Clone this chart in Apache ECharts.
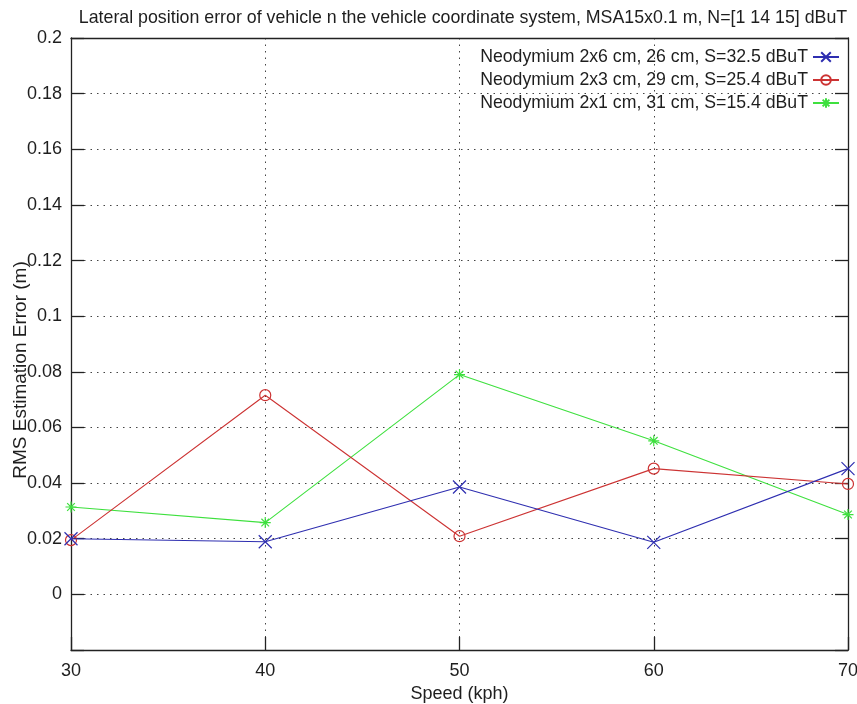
<!DOCTYPE html>
<html>
<head>
<meta charset="utf-8">
<script src="https://cdn.jsdelivr.net/npm/echarts@6/dist/echarts.min.js"></script>
<style>
html,body{margin:0;padding:0;background:#fff;}
#chart{width:857px;height:704px;}
</style>
</head>
<body>
<div id="chart"></div>
<script>
const speeds = [30, 40, 50, 60, 70];
const seriesNames = [
  'Neodymium 2x6 cm, 26 cm, S=32.5 dBuT',
  'Neodymium 2x3 cm, 29 cm, S=25.4 dBuT',
  'Neodymium 2x1 cm, 31 cm, S=15.4 dBuT'
];
const blueValues  = [0.0200, 0.0189, 0.0386, 0.0187, 0.0452];
const redValues   = [0.0195, 0.0716, 0.0209, 0.0452, 0.0397];
const greenValues = [0.0314, 0.0258, 0.0790, 0.0552, 0.0287];
const xTicks = [30, 40, 50, 60, 70];
const yTicks = [-0.02, 0, 0.02, 0.04, 0.06, 0.08, 0.1, 0.12, 0.14, 0.16, 0.18, 0.2];
const titleText = 'Lateral position error of vehicle n the vehicle coordinate system, MSA15x0.1 m, N=[1 14 15] dBuT';
const xName = 'Speed (kph)';
const yName = 'RMS Estimation Error (m)';

const FONT = '"Liberation Sans", Arial, sans-serif';
const TXT = '#1e1e1e';
const colors = ['#2e2eb0', '#cc3333', '#3ee03e'];
const symbols = [
  'path://M0,0L10,10M10,0L0,10',
  'circle',
  'path://M5,0L5,10M0,5L10,5M1.5,1.5L8.5,8.5M8.5,1.5L1.5,8.5'
];
const sizes = [13, 11, 11];
const allValues = [blueValues, redValues, greenValues];

const chart = echarts.init(document.getElementById('chart'), null, {renderer: 'canvas'});

const series = allValues.map((vals, i) => ({
  name: seriesNames[i],
  type: 'line',
  data: speeds.map((s, j) => [s, vals[j]]),
  symbol: symbols[i],
  symbolSize: sizes[i],
  showAllSymbol: true,
  lineStyle: {color: colors[i], width: 1.1},
  itemStyle: {color: i === 1 ? 'rgba(255,255,255,0)' : 'none', borderColor: colors[i], borderWidth: 1.2, opacity: 1},
  emphasis: {disabled: true},
  animation: false,
  z: 10 - i
}));

const nearestTick = v => yTicks.reduce((a, b) => Math.abs(b - v) < Math.abs(a - v) ? b : a);
const yLabel = v => {
  const t = nearestTick(v);
  if (t < -0.001) return '';
  return String(parseFloat(t.toFixed(2)));
};

chart.setOption({
  backgroundColor: '#fff',
  animation: false,
  title: {
    text: titleText,
    left: 458, top: 4, textAlign: 'center',
    textStyle: {fontFamily: FONT, fontSize: 17.8, fontWeight: 'normal', color: TXT}
  },
  legend: {
    orient: 'vertical',
    right: 12, top: 43,
    align: 'right',
    itemWidth: 26, itemHeight: 12, itemGap: 5,
    textStyle: {fontFamily: FONT, fontSize: 17.7, color: TXT},
    data: seriesNames,
    selectedMode: false
  },
  graphic: [{
    type: 'text',
    x: 21, y: 370, rotation: Math.PI / 2,
    style: {text: yName, font: '19px ' + FONT, fill: TXT, align: 'center', verticalAlign: 'middle'}
  }],
  grid: {left: 71, right: 9, top: 38, bottom: 54, containLabel: false, outerBoundsMode: 'none'},
  xAxis: [{
    type: 'value', min: 30, max: 70, interval: 10,
    name: xName, nameLocation: 'middle', nameGap: 30,
    nameTextStyle: {fontFamily: FONT, fontSize: 18, color: TXT},
    axisLine: {show: true, onZero: false, lineStyle: {color: '#222', width: 1.3}},
    axisTick: {show: true, inside: true, length: 13, lineStyle: {color: '#222', width: 1.3}},
    axisLabel: {fontFamily: FONT, fontSize: 18, color: TXT, margin: 12,
      formatter: v => xTicks.includes(v) ? String(v) : ''},
    splitLine: {show: true, lineStyle: {color: '#444', type: [1.5, 5], width: 1}}
  }, {
    type: 'value', min: 30, max: 70, interval: 10, position: 'top',
    axisLine: {show: true, onZero: false, lineStyle: {color: '#222', width: 1.3}},
    axisTick: {show: false}, axisLabel: {show: false}, splitLine: {show: false}
  }],
  yAxis: [{
    type: 'value', min: -0.02, max: 0.2, interval: 0.02,
    axisLine: {show: true, onZero: false, lineStyle: {color: '#222', width: 1.3}},
    axisTick: {show: true, inside: true, length: 13, lineStyle: {color: '#222', width: 1.3}},
    axisLabel: {fontFamily: FONT, fontSize: 18, color: TXT, margin: 9, formatter: yLabel},
    splitLine: {show: true, lineStyle: {color: '#444', type: [1.5, 5], width: 1}}
  }, {
    type: 'value', min: -0.02, max: 0.2, interval: 0.02, position: 'right',
    axisLine: {show: true, onZero: false, lineStyle: {color: '#222', width: 1.3}},
    axisTick: {show: true, inside: true, length: 13, lineStyle: {color: '#222', width: 1.3}},
    axisLabel: {show: false}, splitLine: {show: false}
  }],
  series: series
});
</script>
</body>
</html>
